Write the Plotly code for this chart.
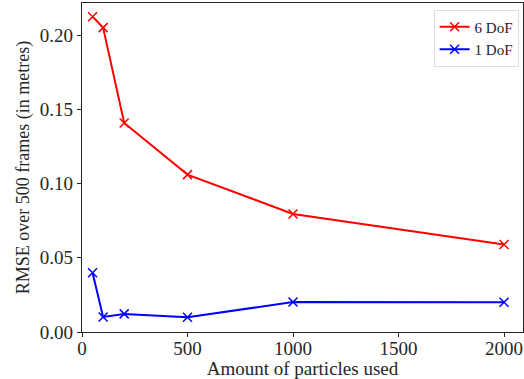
import plotly.graph_objects as go

particles = [50, 100, 200, 500, 1000, 2000]
rmse_6dof = [0.2124, 0.205, 0.1408, 0.106, 0.0795, 0.059]
rmse_1dof = [0.0399, 0.0101, 0.0122, 0.0099, 0.0202, 0.0200]
x_ticks = [0, 500, 1000, 1500, 2000]
y_ticks = [0.0, 0.05, 0.10, 0.15, 0.20]
y_tick_labels = ["0.00", "0.05", "0.10", "0.15", "0.20"]

FONT = "Liberation Serif"

fig = go.Figure()
fig.add_trace(go.Scatter(
    x=particles, y=rmse_6dof, mode="lines+markers", name="6 DoF",
    line=dict(color="#ff0000", width=2),
    marker=dict(symbol="x-thin", size=9, line=dict(color="#ff0000", width=1.5)),
))
fig.add_trace(go.Scatter(
    x=particles, y=rmse_1dof, mode="lines+markers", name="1 DoF",
    line=dict(color="#0000ff", width=2),
    marker=dict(symbol="x-thin", size=9, line=dict(color="#0000ff", width=1.5)),
))

axis_common = dict(
    showline=True, linecolor="#262626", linewidth=1.2, mirror=True,
    ticks="outside", ticklen=4, tickcolor="#262626", tickwidth=1,
    showgrid=False, zeroline=False,
    tickfont=dict(family=FONT, size=19, color="#262626"),
)

fig.update_layout(
    width=524, height=379,
    margin=dict(l=82, r=1, t=3, b=47),
    paper_bgcolor="white", plot_bgcolor="white",
    font=dict(family=FONT, size=19, color="#262626"),
    xaxis=dict(range=[0, 2090], tickvals=x_ticks, ticklabelstandoff=-5,
               automargin=False,
               title=dict(text="Amount of particles used", standoff=0,
                          font=dict(family=FONT, size=19)),
               **axis_common),
    yaxis=dict(range=[0, 0.2216], tickvals=y_ticks, ticktext=y_tick_labels,
               automargin=True,
               title=dict(text="RMSE over 500 frames (in metres)", standoff=5,
                          font=dict(family=FONT, size=18)),
               **axis_common),
    legend=dict(x=0.99, y=0.98, xanchor="right", yanchor="top",
                bgcolor="rgba(255,255,255,0.8)", bordercolor="#dddddd", borderwidth=1,
                font=dict(family=FONT, size=15), tracegroupgap=0, itemwidth=30),
    showlegend=True,
)

fig.write_html("out.html", config={"displayModeBar": False},
               post_script="document.body.style.margin='0px';")
